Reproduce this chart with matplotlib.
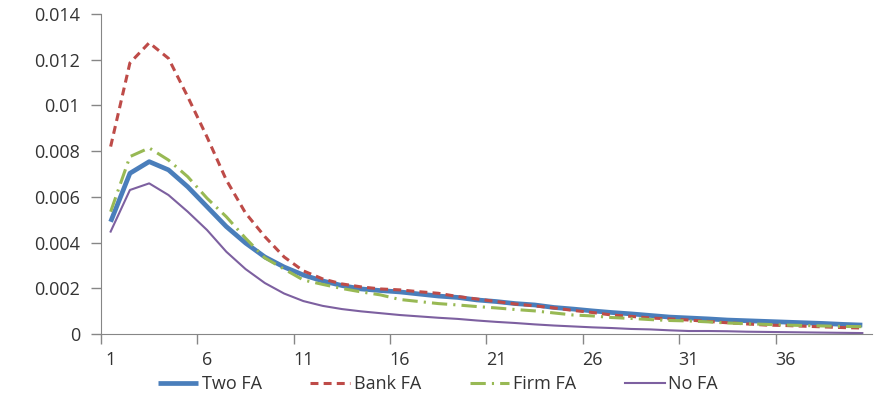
import numpy as np
import matplotlib.pyplot as plt
from matplotlib.ticker import FixedLocator, FuncFormatter

periods = np.arange(1, 41)

two_fa = [0.00491, 0.00703, 0.00754, 0.00718, 0.00644, 0.00557, 0.00470, 0.00398, 0.00337, 0.00293,
          0.00258, 0.00232, 0.00212, 0.00197, 0.00190, 0.00184, 0.00175, 0.00166, 0.00160, 0.00149,
          0.00142, 0.00133, 0.00127, 0.00116, 0.00109, 0.00101, 0.00094, 0.00088, 0.00081, 0.00074,
          0.00070, 0.00066, 0.00061, 0.00058, 0.00055, 0.00052, 0.00049, 0.00046, 0.00042, 0.00039]
bank_fa = [0.00820, 0.01186, 0.01274, 0.01206, 0.01038, 0.00862, 0.00674, 0.00529, 0.00426, 0.00337,
           0.00276, 0.00241, 0.00219, 0.00206, 0.00197, 0.00193, 0.00185, 0.00178, 0.00164, 0.00153,
           0.00142, 0.00131, 0.00123, 0.00114, 0.00103, 0.00094, 0.00083, 0.00077, 0.00070, 0.00066,
           0.00061, 0.00055, 0.00049, 0.00044, 0.00039, 0.00037, 0.00034, 0.00031, 0.00028, 0.00026]
firm_fa = [0.00535, 0.00776, 0.00814, 0.00761, 0.00688, 0.00594, 0.00513, 0.00419, 0.00333, 0.00284,
           0.00236, 0.00217, 0.00199, 0.00184, 0.00171, 0.00151, 0.00142, 0.00133, 0.00127, 0.00120,
           0.00114, 0.00107, 0.00101, 0.00092, 0.00083, 0.00079, 0.00072, 0.00068, 0.00063, 0.00059,
           0.00057, 0.00053, 0.00048, 0.00045, 0.00042, 0.00039, 0.00037, 0.00035, 0.00033, 0.00032]
no_fa = [0.00448, 0.00630, 0.00659, 0.00608, 0.00535, 0.00455, 0.00360, 0.00284, 0.00223, 0.00177,
         0.00144, 0.00123, 0.00109, 0.00099, 0.00091, 0.00083, 0.00077, 0.00071, 0.00066, 0.00059,
         0.00053, 0.00048, 0.00042, 0.00037, 0.00033, 0.00029, 0.00026, 0.00022, 0.00020, 0.00016,
         0.00013, 0.00013, 0.00012, 0.00010, 0.00009, 0.00008, 0.00007, 0.00006, 0.00005, 0.00004]

y_ticks = [0, 0.002, 0.004, 0.006, 0.008, 0.01, 0.012, 0.014]
x_labels = [1, 6, 11, 16, 21, 26, 31, 36]

plt.rcParams['font.family'] = ['Open Sans', 'DejaVu Sans']

fig = plt.figure(figsize=(8.76, 4.07), dpi=100)
ax = fig.add_axes([0.1153, 0.1794, 0.8801, 0.7862])

ax.plot(periods, two_fa, color='#4a7ebb', lw=3.4, label='Two FA', solid_capstyle='butt')
ax.plot(periods, bank_fa, color='#be4b48', lw=2.2, dashes=(2.6, 1.7), label='Bank FA')
ax.plot(periods, firm_fa, color='#98b954', lw=2.2, dashes=(5, 2, 0.7, 2), label='Firm FA')
ax.plot(periods, no_fa, color='#7d60a0', lw=1.5, label='No FA')

ax.set_xlim(0.5, 40.5)
ax.set_ylim(0, 0.014)
ax.set_yticks(y_ticks)
ax.yaxis.set_major_formatter(FuncFormatter(lambda v, p: '0' if v == 0 else f'{v:g}'))

ax.xaxis.set_major_locator(FixedLocator(x_labels))
ax.xaxis.set_minor_locator(FixedLocator([0.5 + 5 * k for k in range(8)]))
ax.tick_params(axis='x', which='major', length=0, pad=12, labelsize=13, colors='#333333')
ax.tick_params(axis='x', which='minor', length=7, width=1, color='#868686')
ax.tick_params(axis='y', length=7, width=1, color='#868686', labelsize=13, labelcolor='#333333', pad=8)

for s in ['top', 'right']:
    ax.spines[s].set_visible(False)
for s in ['left', 'bottom']:
    ax.spines[s].set_color('#868686')

ax.legend(loc='center', bbox_to_anchor=(0.5, 0.056), bbox_transform=fig.transFigure,
          ncol=4, frameon=False, fontsize=13, handlelength=2.2, handletextpad=0.2,
          columnspacing=2.7, labelcolor='#333333', borderpad=0)

fig.savefig('out.png', dpi=100)
